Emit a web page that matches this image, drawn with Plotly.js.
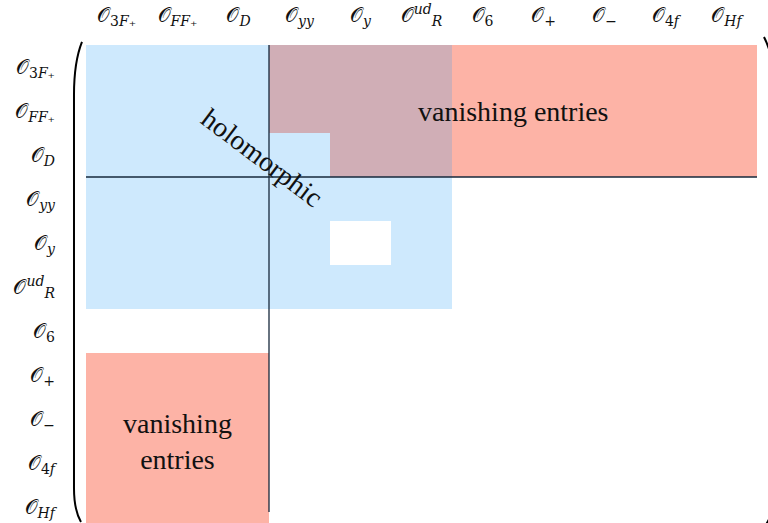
<!DOCTYPE html>
<html>
<head>
<meta charset="utf-8">
<script src="https://cdn.plot.ly/plotly-3.0.1.min.js"></script>
<style>html,body{margin:0;padding:0;background:#fff;}#chart{width:768px;height:523px;}</style>
</head>
<body>
<div id="chart"></div>
<script>
// ---- data ----
const colLabels = [
  "𝒪<sub>3<i>F</i>₊</sub>", "𝒪<sub><i>FF</i>₊</sub>", "𝒪<sub><i>D</i></sub>",
  "𝒪<sub><i>yy</i></sub>", "𝒪<sub><i>y</i></sub>", "𝒪<sup><i>ud</i></sup><sub><i>R</i></sub>",
  "𝒪<sub>6</sub>", "𝒪<sub>+</sub>", "𝒪<sub>−</sub>", "𝒪<sub>4<i>f</i></sub>", "𝒪<sub><i>Hf</i></sub>"
];
const rowLabels = colLabels.slice();
// blocks: [firstRow, lastRow, firstCol, lastCol]
const holomorphicBlock = [0, 5, 0, 5];
const zeroEntries = [[4, 4]];
const vanishingBlocks = [[0, 1, 3, 10], [0, 2, 4, 10], [7, 10, 0, 2]];
const dividerRow = 3;   // horizontal rule drawn before this row
const dividerCol = 3;   // vertical rule drawn before this column
const regionTexts = ["holomorphic", "vanishing entries", "vanishing<br>entries"];
const regionTextBlocks = [[0, 5, 0, 5], [0, 2, 3, 10], [7, 10, 0, 2]];

// ---- build matrix of cell categories: 0 empty, 1 holomorphic, 2 vanishing, 3 both ----
const n = rowLabels.length, m = colLabels.length;
const z = [];
for (let r = 0; r < n; r++) { z.push(new Array(m).fill(0)); }
for (let r = holomorphicBlock[0]; r <= holomorphicBlock[1]; r++)
  for (let c = holomorphicBlock[2]; c <= holomorphicBlock[3]; c++) z[r][c] = 1;
zeroEntries.forEach(([r, c]) => { z[r][c] = 0; });
vanishingBlocks.forEach(([r0, r1, c0, c1]) => {
  for (let r = r0; r <= r1; r++) for (let c = c0; c <= c1; c++)
    z[r][c] = (z[r][c] === 1 || z[r][c] === 3) ? 3 : 2;
});

const idxX = colLabels.map((_, i) => i);
const idxY = rowLabels.map((_, i) => i);

const WHITE = '#ffffff', BLUE = '#cee9fd', RED = '#fdb3a6', PURPLE = '#d0aeb6';
const trace = {
  type: 'heatmap', x: idxX, y: idxY, z: z,
  zmin: -0.5, zmax: 3.5, showscale: false, hoverinfo: 'skip', zsmooth: false,
  colorscale: [[0, WHITE], [0.25, WHITE], [0.25, BLUE], [0.5, BLUE],
               [0.5, RED], [0.75, RED], [0.75, PURPLE], [1, PURPLE]]
};

// ---- layout geometry ----
const W = 768, H = 523;
const ML = 86, MR = 11, MT = 45, MB = 0;
const plotW = W - ML - MR, plotH = H - MT - MB;
const cellH = 44;                                   // row height in px
const yTop = -0.5, yBottom = -0.5 + plotH / cellH;  // rows below the page edge are cut
const px = (x) => ((x - ML) / plotW).toFixed(4);
const py = (y) => ((H - MB - y) / plotH).toFixed(4);

const RULE = '#16283b';
const shapes = [
  {type: 'line', xref: 'x', yref: 'y', x0: -0.5, x1: m - 0.5, y0: dividerRow - 0.5, y1: dividerRow - 0.5,
   line: {color: RULE, width: 1.3}},
  {type: 'line', xref: 'x', yref: 'y', x0: dividerCol - 0.5, x1: dividerCol - 0.5, y0: -0.5, y1: yBottom - 0.25,
   line: {color: RULE, width: 1.3}},
  // matrix parentheses (decoration, page pixels -> paper)
  {type: 'path', xref: 'paper', yref: 'paper',
   path: `M ${px(82)},${py(42)} Q ${px(74)},${py(62)} ${px(74)},${py(95)} L ${px(74)},${py(488)} Q ${px(74)},${py(510)} ${px(81)},${py(522)}`,
   line: {color: '#000', width: 2}},
  {type: 'path', xref: 'paper', yref: 'paper',
   path: `M ${px(764)},${py(37)} Q ${px(775)},${py(58)} ${px(775)},${py(95)} L ${px(775)},${py(488)} Q ${px(775)},${py(512)} ${px(765)},${py(526)}`,
   line: {color: '#000', width: 2}}
];

const SERIF = 'Liberation Serif';
const annotations = regionTexts.map((t, i) => {
  const [r0, r1, c0, c1] = regionTextBlocks[i];
  const a = {x: (c0 + c1) / 2, y: (r0 + r1) / 2, xref: 'x', yref: 'y', text: t, showarrow: false,
    font: {family: SERIF, size: 28, color: '#111'}};
  if (i === 0) { a.textangle = 37; a.xshift = -7; a.yshift = 20; }
  return a;
});

const tickFont = {family: 'DejaVu Serif', size: 20, color: '#111'};
const layout = {
  width: W, height: H,
  margin: {l: ML, r: MR, t: MT, b: MB, pad: 0},
  paper_bgcolor: '#fff', plot_bgcolor: '#fff',
  showlegend: false,
  xaxis: {side: 'top', range: [-0.5, m - 0.5], tickvals: idxX, ticktext: colLabels,
    showgrid: false, zeroline: false, showline: false, ticks: 'outside', ticklen: 14,
    tickcolor: 'rgba(0,0,0,0)', tickfont: tickFont, fixedrange: true},
  yaxis: {range: [yBottom, yTop], tickvals: idxY, ticktext: rowLabels,
    showgrid: false, zeroline: false, showline: false, ticks: 'outside', ticklen: 26,
    tickcolor: 'rgba(0,0,0,0)', tickfont: tickFont, fixedrange: true},
  shapes: shapes,
  annotations: annotations
};
Plotly.newPlot('chart', [trace], layout, {displayModeBar: false, staticPlot: true});
</script>
</body>
</html>
